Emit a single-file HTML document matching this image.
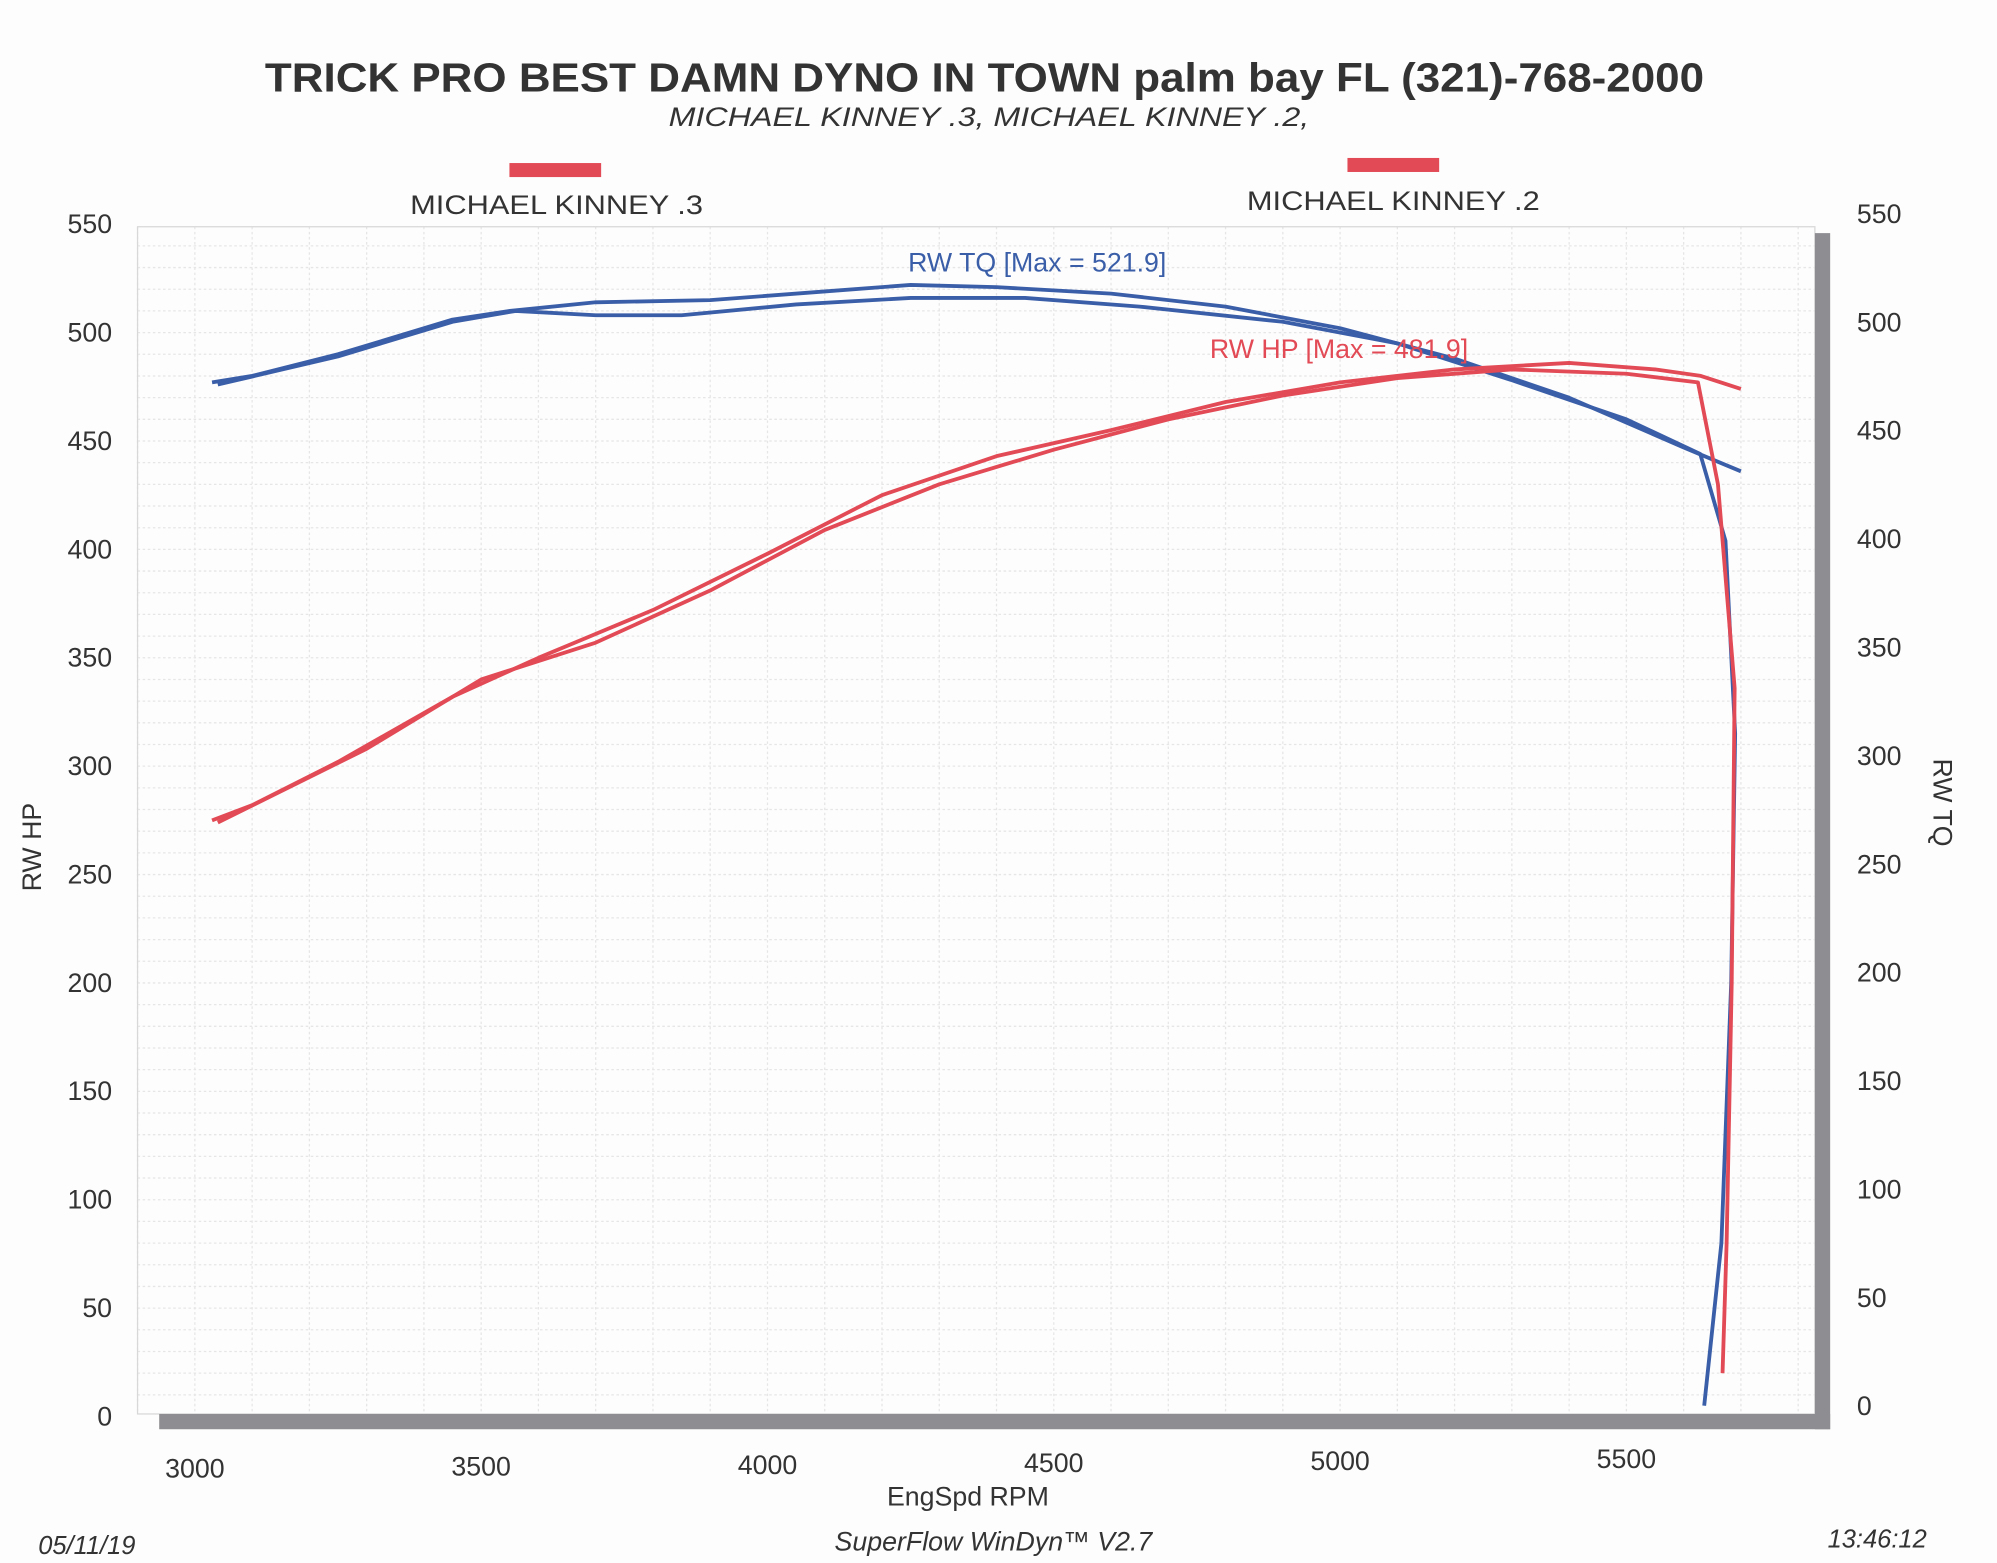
<!DOCTYPE html>
<html><head><meta charset="utf-8"><style>
html,body{margin:0;padding:0;background:#fff;}
svg{display:block;}
text{font-family:"Liberation Sans",sans-serif;}
</style></head><body>
<svg id="s" width="1997" height="1563" viewBox="0 0 1568 1227" preserveAspectRatio="none" xmlns="http://www.w3.org/2000/svg">
<rect width="1568" height="1227" fill="#fdfdfd"/>
<g id="grid" stroke="#e6e6e6" stroke-width="1" stroke-dasharray="2,2"></g>
<rect x="108" y="178" width="1317" height="932" fill="none" stroke="#d8d8d8" stroke-width="1"/>
<rect x="1425" y="183" width="12" height="939" fill="#8e8e92"/>
<rect x="125" y="1110" width="1312" height="12" fill="#8e8e92"/>
<text x="208" y="72" font-size="32" font-weight="bold" textLength="1130" lengthAdjust="spacingAndGlyphs" fill="#333">TRICK PRO BEST DAMN DYNO IN TOWN palm bay FL (321)-768-2000</text>
<text x="525" y="99" font-size="21" font-style="italic" textLength="503" lengthAdjust="spacingAndGlyphs" fill="#333">MICHAEL KINNEY .3, MICHAEL KINNEY .2,</text>
<rect x="400" y="128" width="72" height="11" fill="#e24a55"/>
<rect x="1058" y="124" width="72" height="11" fill="#e24a55"/>
<text x="322" y="168" font-size="21" textLength="230" lengthAdjust="spacingAndGlyphs" fill="#333">MICHAEL KINNEY .3</text>
<text x="979" y="165" font-size="21" textLength="230" lengthAdjust="spacingAndGlyphs" fill="#333">MICHAEL KINNEY .2</text>
<g id="ticks" font-size="21" fill="#333"></g>
<text transform="translate(32,665) rotate(-90)" font-size="21" text-anchor="middle" fill="#333">RW HP</text>
<text transform="translate(1518,630) rotate(90)" font-size="21" text-anchor="middle" fill="#333">RW TQ</text>
<text x="760" y="1182" font-size="21" text-anchor="middle" fill="#333">EngSpd  RPM</text>
<text x="30" y="1220" font-size="20" font-style="italic" fill="#333">05/11/19</text>
<text x="780" y="1217" font-size="21" font-style="italic" text-anchor="middle" fill="#333">SuperFlow WinDyn™ V2.7</text>
<text x="1435" y="1215" font-size="20" font-style="italic" fill="#333">13:46:12</text>
<g id="curves" fill="none" stroke-width="3" stroke-linejoin="round"></g>
<text x="713" y="213" font-size="21" fill="#3a5ea8">RW TQ  [Max = 521.9]</text>
<text x="950" y="281" font-size="21" fill="#e24a55">RW HP  [Max = 481.9]</text>
</svg>
<script>
var NS="http://www.w3.org/2000/svg";
function X(r){return 153+(r-3000)*0.4496;}
function Y(v){return 1112-v*1.7018;}
function el(p,t,a,txt){var e=document.createElementNS(NS,t);for(var k in a)e.setAttribute(k,a[k]);if(txt!=null)e.textContent=txt;document.getElementById(p).appendChild(e);}
for(var v=10;v<550;v+=10){el("grid","line",{x1:108,x2:1425,y1:Y(v),y2:Y(v)});}
for(var r=2900;r<=5900;r+=100){var x=X(r);if(x>108&&x<1425)el("grid","line",{x1:x,x2:x,y1:178,y2:1110});}
for(var v=0;v<=550;v+=50){el("ticks","text",{x:88,y:Y(v)+7,"text-anchor":"end"},v);el("ticks","text",{x:1458,y:1104-v*1.7018+7},v);}
for(var r=3000;r<=5500;r+=500){el("ticks","text",{x:X(r),y:1160-(r-3000)*0.003,"text-anchor":"middle"},r);}
function curve(pts,c){var d="";pts.forEach(function(p,i){d+=(i?"L":"M")+X(p[0]).toFixed(1)+","+Y(p[1]).toFixed(1);});el("curves","path",{d:d,stroke:c});}
var B="#3a5ea8",R="#e24a55";
curve([[3030,477],[3100,480],[3250,490],[3450,506],[3550,510],[3700,514],[3900,515],[4100,519],[4250,522],[4400,521],[4600,518],[4800,512],[5000,502],[5200,488],[5400,470],[5600,447],[5700,436]],B);
curve([[3040,476],[3250,489],[3450,505],[3560,510],[3700,508],[3850,508],[4050,513],[4250,516],[4450,516],[4650,512],[4900,505],[5100,495],[5300,478],[5500,460],[5629,444],[5673,404],[5690,315],[5683,200],[5666,80],[5636,5]],B);
curve([[3030,275],[3100,282],[3250,302],[3450,332],[3600,350],[3800,372],[4000,398],[4200,425],[4400,443],[4600,455],[4800,468],[5000,477],[5200,483],[5400,486],[5550,483],[5630,480],[5700,474]],R);
curve([[3040,274],[3300,308],[3500,340],[3700,357],[3900,381],[4100,409],[4300,430],[4500,446],[4700,460],[4900,471],[5100,479],[5300,483],[5500,481],[5625,477],[5660,430],[5689,336],[5684,200],[5675,80],[5668,20]],R);
</script>
</body></html>
